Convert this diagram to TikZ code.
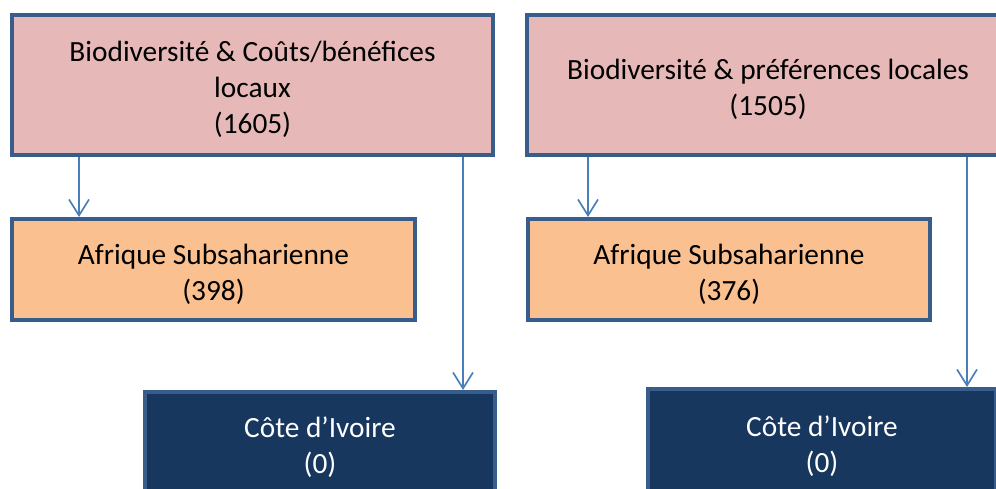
\documentclass[tikz,border=0pt]{standalone}
\usepackage{fontspec}
\setmainfont{Carlito}
\usetikzlibrary{arrows.meta}
\definecolor{rose}{RGB}{230,185,184}
\definecolor{peche}{RGB}{250,192,144}
\definecolor{marine}{RGB}{23,55,94}
\definecolor{bord}{RGB}{56,93,138}
\definecolor{fleche}{RGB}{74,126,187}
\newcommand\haut{\rule{0pt}{22pt}}

\begin{document}
\begin{tikzpicture}[x=0.75pt,y=-0.75pt,
  boite/.style={draw=bord,line width=3pt,align=center,inner sep=0pt,
    font=\fontsize{22}{27}\selectfont},
  lien/.style={fleche,line width=1.25pt,-{Straight Barb[length=12pt,width=15pt]}}]
\useasboundingbox (0,0) rectangle (996,489);
\clip (0,0) rectangle (996,489);
\node [boite,fill=rose,minimum width=360.75pt,minimum height=105pt] (bio1) at (252.5,85) {\haut Biodiversité \& Coûts/bénéfices\\locaux\\(1605)};
\node [boite,fill=rose,minimum width=361.5pt,minimum height=105pt] (bio2) at (768,85) {\haut Biodiversité \& préférences locales\\(1505)};
\node [boite,fill=peche,minimum width=302.25pt,minimum height=75.75pt] (af1) at (213.5,269.5) {\haut Afrique Subsaharienne\\(398)};
\node [boite,fill=peche,minimum width=301.5pt,minimum height=75.75pt] (af2) at (729,269.5) {\haut Afrique Subsaharienne\\(376)};
\node [boite,fill=marine,text=white,minimum width=262.5pt,minimum height=76.5pt] (ci1) at (320,443) {\haut Côte d’Ivoire\\(0)};
\node [boite,fill=marine,text=white,minimum width=261pt,minimum height=78.75pt] (ci2) at (822,441.5) {\haut Côte d’Ivoire\\(0)};
\coordinate (g1) at (79,0);
\coordinate (d1) at (463,0);
\coordinate (g2) at (588,0);
\coordinate (d2) at (967,0);
\draw [lien] (bio1.south -| g1) -- (af1.north -| g1);
\draw [lien] (bio1.south -| d1) -- (ci1.north -| d1);
\draw [lien] (bio2.south -| g2) -- (af2.north -| g2);
\draw [lien] (bio2.south -| d2) -- (ci2.north -| d2);
\end{tikzpicture}
\end{document}
